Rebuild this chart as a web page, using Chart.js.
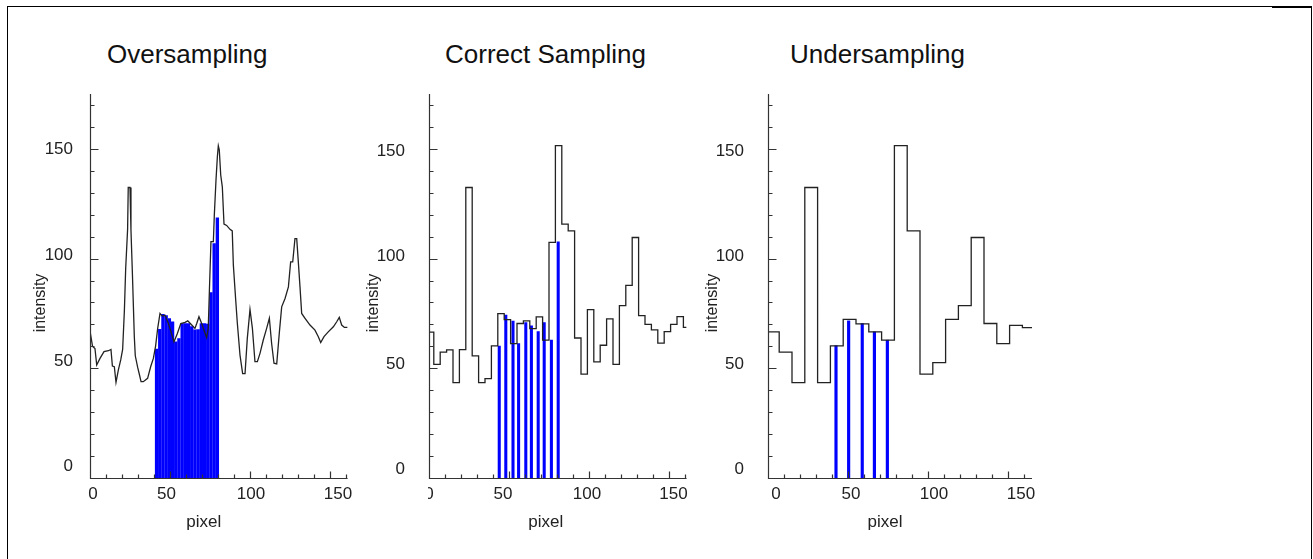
<!DOCTYPE html>
<html lang="en">
<head>
  <meta charset="UTF-8">
  <title>Sampling</title>
  <script src="https://cdn.jsdelivr.net/npm/chart.js"></script>
  <style>
    body {
      margin: 0;
      background: #fff;
      font-family: "Liberation Sans", Arial, sans-serif;
    }
    #frame {
      position: absolute;
      left: 7px;
      top: 6px;
      width: 1303px;
      height: 560px;
      border: 1px solid #000;
      border-bottom: none;
    }
    #frameCorner {
      position: absolute;
      left: 1272px;
      top: 6px;
      width: 40px;
      height: 2px;
      background: #000;
    }
    canvas {
      position: absolute;
      top: 80px;
    }
    .title {
      position: absolute;
      top: 41px;
      font-size: 26px;
      line-height: 26px;
      color: #111;
      white-space: nowrap;
    }
  </style>
</head>
<body>
  <div id="frame"></div>
  <div id="frameCorner"></div>

  <canvas id="under" width="420" height="470" style="left:678px"></canvas>
  <canvas id="correct" width="400" height="470" style="left:339px"></canvas>
  <canvas id="over" width="428" height="470" style="left:0px"></canvas>

  <div class="title" style="left:107px">Oversampling</div>
  <div class="title" style="left:445px">Correct Sampling</div>
  <div class="title" style="left:790px">Undersampling</div>

  <script>
    // fine profile, drawn as a polyline (pixel, intensity)
    const fineX = [0, 1.6, 3.1, 4.2, 6.25, 8.75, 11.5, 13.1, 14, 15.2, 16.25, 17.7, 19.2, 20.4, 21.5,
      22.3, 23.5, 23.9, 25, 25.6, 26.5, 27.7, 28.3, 29.8, 30.8, 31.9, 33.3, 36, 37.9, 39.6,
      41, 42.3, 43.75, 45.2, 46.9, 49, 50.4, 52.5, 54.6, 56.75, 59.4, 61.1, 63.6, 65.6, 66.7,
      68.1, 69.8, 71.25, 72.9, 73.9, 74.6, 75.6, 77.1, 77.7, 78.75, 79.6, 80.2, 80.8, 81.7, 82.7,
      83.75, 85.4, 87.5, 88.9, 89.6, 91, 92.1, 93.75, 95.4, 96.9, 98.3, 100, 101.5, 103.1, 104.6,
      106.25, 108.3, 110.4, 112.1, 113.5, 115, 116.7, 118.3, 119.8, 121.9, 124, 125.4, 126.7, 128.1, 129.2,
      130.2, 131.25, 132.3, 134.4, 137.5, 140.6, 142.7, 144.2, 146.25, 148.9, 152.1, 154.2, 155.8, 157.3, 159,
      161];
    const fineY = [67, 60, 59, 51.5, 54.5, 57.6, 58, 58.6, 51, 50.7, 43.6, 49.2, 53.8, 58.6, 76.5,
      95.5, 113.3, 132.4, 132.4, 113, 93.2, 64.4, 55.7, 50.4, 47.4, 43.9, 43.9, 45.4, 50.7, 54.5,
      60.1, 68.2, 75, 73.8, 74.2, 70.4, 67.1, 62.1, 65.9, 70.4, 70.9, 71.6, 69.7, 68.2, 70.4,
      73.5, 70.4, 67.3, 64, 68.2, 84.9, 107.7, 107.7, 119.8, 135.8, 146.4, 151.4, 149.5, 138.1, 132.7,
      115.7, 115.1, 113.3, 112.6, 97, 81.8, 70.4, 56, 47.6, 47.6, 63.5, 76.8, 68.2, 53, 53,
      56.8, 62.9, 68.2, 72.8, 61.4, 52.3, 52, 65.9, 78, 81.8, 87.1, 98.5, 98.5, 109.1, 109.1,
      98.5, 87.1, 75, 72.8, 69.7, 67.4, 64.4, 61.7, 64.4, 66.6, 68.9, 71.2, 73.2, 69.7, 68.6,
      68.6];

    // 4-pixel steps: each value holds from its start to the next start
    const midStart = [0, 3, 7, 11, 15, 19, 23, 27, 31, 35, 39, 43, 47, 51, 55, 59, 63, 67, 71, 75,
      79, 83, 87, 91, 95, 99, 103, 107, 111, 115, 119, 123, 127, 131, 135, 139, 143, 147, 151, 155, 159];
    const midValue = [66.5, 51.8, 57.4, 58.4, 43.5, 58.5, 132.4, 55.7, 43.5, 45.3, 60.2, 74.9, 72.2, 61.2, 70.4,
      71.6, 68.1, 73.4, 62.8, 107.4, 151.5, 115.7, 112.6, 63.8, 47.3, 76.7, 52.9, 60.5, 72.5, 51.8,
      78.6, 87.8, 109.6, 74, 70, 67.5, 61.5, 66.7, 70, 73.5, 68.6];
    const midEnd = 161;

    // 8-pixel steps
    const coarseStart = [0, 7, 15, 23, 31, 39, 47, 55, 63, 71, 79, 87, 95, 103, 111, 119, 127, 135, 143, 151, 159];
    const coarseValue = [66.6, 57.4, 43.5, 132.4, 43.5, 60.2, 72.3, 70.2, 66.6, 62.8, 151.5, 112.6, 47.3, 52.6, 72.3,
      78.6, 109.6, 70.4, 61.2, 69.6, 68.5];
    const coarseEnd = 165;

    // sample bars
    const overBarX = [41.6, 43.6, 45.6, 47.6, 49.6, 51.6, 53.6, 55.6, 57.6, 59.6,
      61.6, 63.6, 65.6, 67.6, 69.6, 71.6, 73.6, 75.6, 77.6, 79.6];
    const overBarY = [58.7, 67.8, 74.6, 74.0, 72.7, 71.2, 62.0, 63.5, 70.4, 70.4,
      70.4, 69.0, 67.5, 67.6, 70.4, 70.4, 70.2, 84.5, 106.8, 118.6];
    const midBarX = [43.9, 48, 52.5, 56, 60.5, 64, 68.25, 72, 76.5, 80.75];
    const midBarY = [60.1, 74.3, 71.5, 61.3, 70.8, 69.3, 66.7, 70.8, 62.9, 107.6];
    const coarseBarX = [42.5, 50.4, 58.9, 66.5, 74.6];
    const coarseBarY = [60.3, 71.6, 70.4, 66.6, 62.8];

    const yTicks = [0, 50, 100, 150];
    const xTicks = [0, 50, 100, 150];

    const zip = (xs, ys) => xs.map((x, i) => ({ x: x, y: ys[i] }));
    function steps(starts, values, end) {
      const pts = zip(starts, values);
      pts.push({ x: end, y: values[values.length - 1] });
      return pts;
    }

    // axis lines, inward ticks, tick labels and axis titles
    const axisMarks = {
      id: 'axisMarks',
      afterDraw(chart, args, o) {
        const { ctx, chartArea: a, scales: { x, y } } = chart;
        const left = Math.round(a.left) + 0.5;
        const bottom = Math.round(a.bottom) + 0.5;
        ctx.save();
        ctx.strokeStyle = '#333';
        ctx.lineWidth = 1.2;
        ctx.beginPath();
        ctx.moveTo(left, a.top);
        ctx.lineTo(left, bottom);
        ctx.lineTo(a.right, bottom);
        for (let v = 10; v <= 170; v += 10) {
          const py = Math.round(y.getPixelForValue(v)) + 0.5;
          ctx.moveTo(left, py);
          ctx.lineTo(left + (v % 50 ? 4 : 8), py);
        }
        for (let u = 0; u <= 160; u += 10) {
          const px = Math.round(x.getPixelForValue(u)) + 0.5;
          ctx.moveTo(px, bottom);
          ctx.lineTo(px, bottom - (u % 50 ? 4 : 7));
        }
        ctx.stroke();

        ctx.fillStyle = '#222';
        ctx.font = '17px "Liberation Sans", Arial, sans-serif';
        ctx.textBaseline = 'middle';
        ctx.textAlign = 'right';
        yTicks.forEach((v, i) => ctx.fillText(String(v), a.left - o.yGap, y.getPixelForValue(v) + o.yNudge[i]));

        // x labels, optionally cut at the left edge of the strip
        ctx.save();
        if (o.xLabelClip) {
          ctx.beginPath();
          ctx.rect(a.left - 1, a.bottom, chart.width, chart.height - a.bottom);
          ctx.clip();
        }
        ctx.textAlign = 'center';
        xTicks.forEach((u, i) => ctx.fillText(String(u), x.getPixelForValue(u) + o.xNudge[i], a.bottom + 16));
        ctx.restore();

        ctx.textAlign = 'center';
        ctx.fillText('pixel', (a.left + a.right) / 2 + o.xTitleShift, a.bottom + 44);
        ctx.font = '16px "Liberation Sans", Arial, sans-serif';
        ctx.translate(a.left - o.yTitleGap, (a.top + a.bottom) / 2 + 17);
        ctx.rotate(-Math.PI / 2);
        ctx.fillText('intensity', 0, 0);
        ctx.restore();
      }
    };

    function makePanel(id, cfg) {
      new Chart(document.getElementById(id), {
        type: 'bar',
        data: {
          datasets: [
            {
              type: 'line',
              data: cfg.line,
              stepped: cfg.stepped,
              borderColor: '#222',
              borderWidth: 1.3,
              pointRadius: 0,
              tension: 0,
              order: 0
            },
            {
              type: 'bar',
              data: cfg.bars,
              backgroundColor: '#0000ff',
              borderWidth: 0,
              barThickness: cfg.barWidth,
              grouped: false,
              order: 1
            }
          ]
        },
        options: {
          responsive: false,
          animation: false,
          events: [],
          layout: { padding: { left: 90, right: cfg.padRight, top: 14, bottom: 72 } },
          scales: {
            x: { type: 'linear', offset: false, min: 0, max: cfg.xMax, display: false },
            y: { type: 'linear', min: 0, max: 175, display: false }
          },
          plugins: {
            legend: { display: false },
            tooltip: { enabled: false },
            axisMarks: cfg.marks
          }
        },
        plugins: [axisMarks]
      });
    }

    makePanel('over', {
      line: zip(fineX, fineY),
      stepped: false,
      bars: zip(overBarX, overBarY),
      barWidth: 2.7,
      xMax: 161,
      padRight: 80.4,
      marks: { yGap: 17, yNudge: [-11.7, -6.6, -2.8, 0], xNudge: [3, -3.5, 1, 8], xTitleShift: -15, yTitleGap: 49 }
    });

    makePanel('correct', {
      line: steps(midStart, midValue, midEnd),
      stepped: 'before',
      bars: zip(midBarX, midBarY),
      barWidth: 2.4,
      xMax: 161,
      padRight: 52.4,
      marks: { yGap: 24, yNudge: [-9, -4.1, -1.8, 2], xNudge: [0, -6, -2, 4.5], xTitleShift: -12, yTitleGap: 55, xLabelClip: true }
    });

    makePanel('under', {
      line: steps(coarseStart, coarseValue, coarseEnd),
      stepped: 'before',
      bars: zip(coarseBarX, coarseBarY),
      barWidth: 2.5,
      xMax: 165,
      padRight: 66,
      marks: { yGap: 24, yNudge: [-9, -4.1, -1.8, 2], xNudge: [8, 3, 6, 13], xTitleShift: -15, yTitleGap: 55 }
    });
  </script>
</body>
</html>
